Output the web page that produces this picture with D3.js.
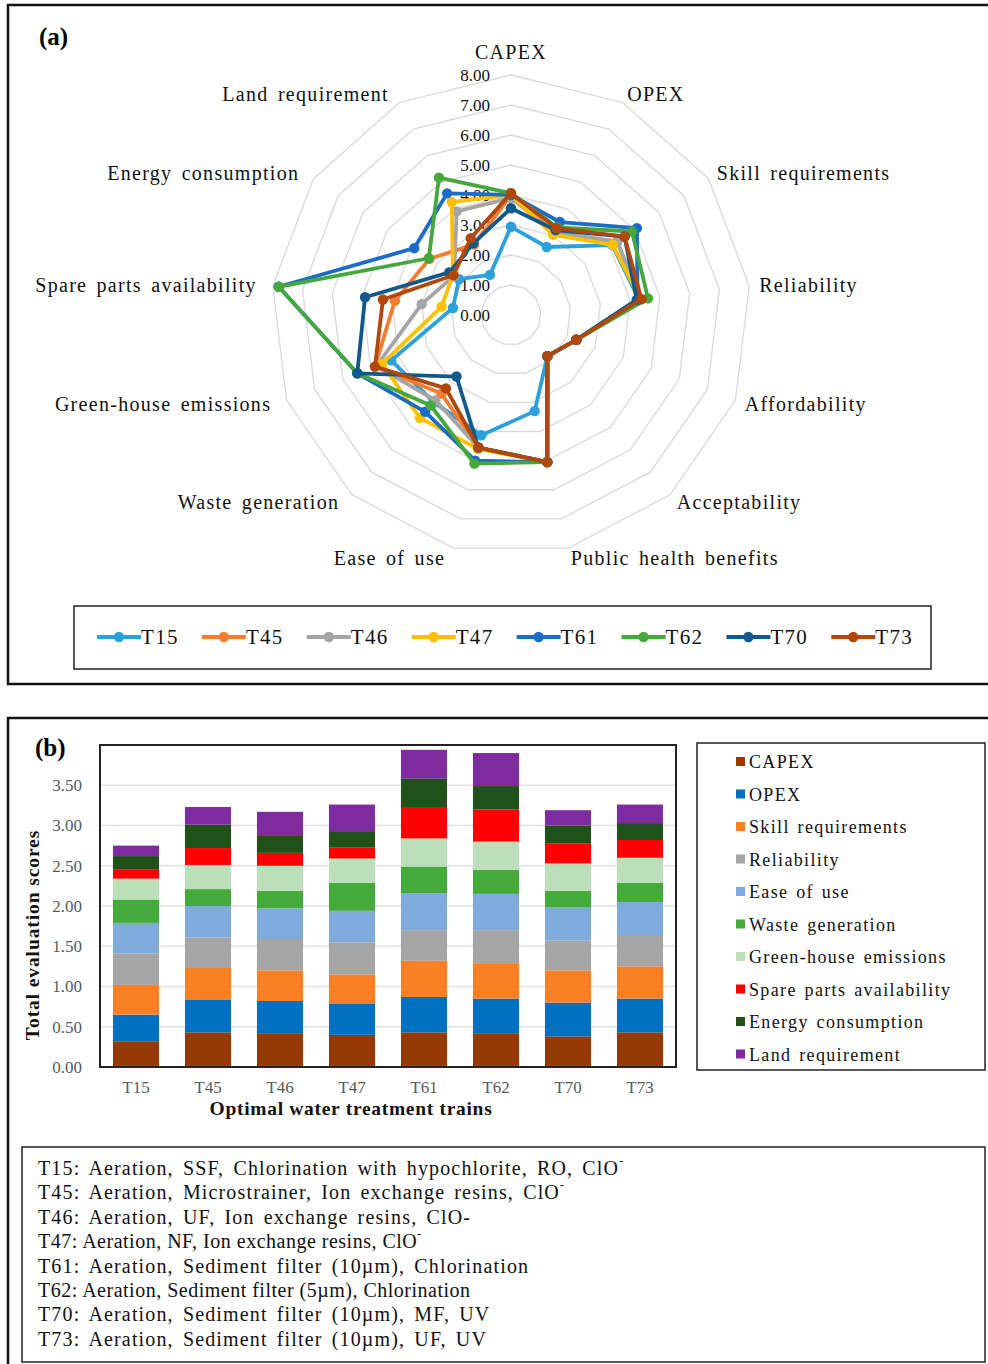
<!DOCTYPE html>
<html>
<head>
<meta charset="utf-8">
<script src="https://cdn.jsdelivr.net/npm/d3@7"></script>
<style>
  body { margin: 0; background: #fff; }
  svg { display: block; }
  text { font-family: "Liberation Serif", "Times New Roman", serif; }
</style>
</head>
<body>
<svg id="fig" width="988" height="1364"></svg>
<script>
// ---------- data ----------
const trains = ["T15", "T45", "T46", "T47", "T61", "T62", "T70", "T73"];

// radar criteria, clockwise from the top
const radarCriteria = ["CAPEX", "OPEX", "Skill requirements", "Reliability", "Affordability",
  "Acceptability", "Public health benefits", "Ease of use", "Waste generation",
  "Green-house emissions", "Spare parts availability", "Energy consumption", "Land requirement"];
const radarTicks = [0, 1, 2, 3, 4, 5, 6, 7, 8];

// criterion scores per treatment train (same order as radarCriteria)
const scoresT15 = [2.94, 2.56, 4.10, 4.30, 2.33, 1.83, 3.30, 4.13, 3.88, 4.27, 1.95, 2.10, 1.51];
const scoresT45 = [4.00, 3.10, 4.30, 4.35, 2.33, 1.83, 5.05, 4.55, 3.50, 4.85, 3.90, 3.30, 2.65];
const scoresT46 = [3.90, 3.10, 4.30, 4.35, 2.33, 1.83, 5.05, 4.55, 3.80, 4.80, 3.00, 2.30, 3.90];
const scoresT47 = [4.00, 3.02, 4.12, 4.35, 2.33, 1.83, 5.05, 4.60, 4.58, 4.60, 2.33, 2.35, 4.25];
const scoresT61 = [4.00, 3.50, 5.10, 4.25, 2.33, 1.83, 5.05, 5.00, 4.31, 5.48, 7.80, 3.92, 4.58];
const scoresT62 = [4.06, 3.30, 4.90, 4.60, 2.33, 1.83, 5.05, 5.10, 4.03, 5.48, 7.80, 3.33, 5.17];
const scoresT70 = [3.56, 3.20, 4.60, 4.22, 2.33, 1.83, 5.05, 4.55, 2.74, 5.48, 4.90, 2.50, 2.70];
const scoresT73 = [4.06, 3.27, 4.60, 4.38, 2.33, 1.83, 5.05, 4.55, 3.27, 4.85, 4.30, 2.33, 2.89];
const radarSeries = [scoresT15, scoresT45, scoresT46, scoresT47, scoresT61, scoresT62, scoresT70, scoresT73];
const trainColors = ["#2aa1dc", "#f47d30", "#a5a5a5", "#ffc000", "#1a6cc8", "#44a83d", "#11598c", "#b0480c"];

// weighted evaluation scores per criterion (same order as trains)
const barCriteria = ["CAPEX", "OPEX", "Skill requirements", "Reliability", "Ease of use",
  "Waste generation", "Green-house emissions", "Spare parts availability",
  "Energy consumption", "Land requirement"];
const wCapex   = [0.32, 0.43, 0.42, 0.40, 0.43, 0.42, 0.38, 0.43];
const wOpex    = [0.33, 0.41, 0.40, 0.39, 0.44, 0.43, 0.42, 0.42];
const wSkill   = [0.37, 0.39, 0.38, 0.36, 0.45, 0.43, 0.40, 0.40];
const wReliab  = [0.39, 0.38, 0.39, 0.40, 0.38, 0.42, 0.37, 0.39];
const wEase    = [0.38, 0.39, 0.38, 0.39, 0.46, 0.45, 0.41, 0.41];
const wWaste   = [0.29, 0.21, 0.22, 0.35, 0.33, 0.30, 0.21, 0.24];
const wGhg     = [0.26, 0.30, 0.31, 0.30, 0.35, 0.35, 0.34, 0.31];
const wSpare   = [0.11, 0.21, 0.16, 0.14, 0.39, 0.40, 0.25, 0.22];
const wEnergy  = [0.17, 0.29, 0.21, 0.20, 0.35, 0.29, 0.22, 0.21];
const wLand    = [0.13, 0.22, 0.30, 0.33, 0.36, 0.41, 0.19, 0.23];
const barSeries = [wCapex, wOpex, wSkill, wReliab, wEase, wWaste, wGhg, wSpare, wEnergy, wLand];
const barColors = ["#953a03", "#0070c0", "#fb7f23", "#a5a5a5", "#7faadc",
  "#45aa3c", "#bbdfb8", "#ff0000", "#1e5218", "#7e2ba0"];
const barTicks = [0, 0.5, 1, 1.5, 2, 2.5, 3, 3.5];

// treatment train descriptions: [text, superscript]
const trainNotes = [
  ["T15: Aeration, SSF, Chlorination with hypochlorite, RO, ClO", "-"],
  ["T45: Aeration, Microstrainer, Ion exchange resins, ClO", "-"],
  ["T46: Aeration, UF, Ion exchange resins, ClO-", ""],
  ["T47: Aeration, NF, Ion exchange resins, ClO", "-"],
  ["T61: Aeration, Sediment filter (10µm), Chlorination", ""],
  ["T62: Aeration, Sediment filter (5µm), Chlorination", ""],
  ["T70: Aeration, Sediment filter (10µm), MF, UV", ""],
  ["T73: Aeration, Sediment filter (10µm), UF, UV", ""]
];
// lines typeset without the extra spacing
const compactNotes = ["T47", "T62"];

// ---------- figure ----------
const svg = d3.select("#fig");

// panel frames
svg.append("rect").attr("x", 8).attr("y", 5).attr("width", 992).attr("height", 679)
  .attr("fill", "none").attr("stroke", "#111").attr("stroke-width", 2.5);
svg.append("rect").attr("x", 8).attr("y", 718).attr("width", 992).attr("height", 680)
  .attr("fill", "none").attr("stroke", "#111").attr("stroke-width", 2.5);

svg.append("text").attr("x", 39).attr("y", 45).attr("font-size", 25).attr("font-weight", "bold").text("(a)");
svg.append("text").attr("x", 35).attr("y", 756).attr("font-size", 25).attr("font-weight", "bold").text("(b)");

// ---------- (a) radar ----------
const cx = 511, cy = 315;
const n = radarCriteria.length;
const r = d3.scaleLinear().domain([0, 8]).range([0, 240]);
const angle = d3.scaleLinear().domain([0, n]).range([0, 2 * Math.PI]);
const radar = svg.append("g").attr("transform", `translate(${cx},${cy})`);

const ringLine = d3.lineRadial().curve(d3.curveLinearClosed)
  .angle((d, i) => angle(i)).radius(d => r(d));
radar.selectAll("path.ring").data(radarTicks.filter(t => t > 0)).join("path")
  .attr("class", "ring")
  .attr("d", t => ringLine(d3.range(n).map(() => t)))
  .attr("fill", "none").attr("stroke", "#d9d9d9").attr("stroke-width", 1.3);

radar.selectAll("text.tick").data(radarTicks).join("text")
  .attr("class", "tick")
  .attr("x", -21).attr("y", t => -r(t))
  .attr("text-anchor", "end").attr("dominant-baseline", "central")
  .attr("font-size", 17).attr("fill", "#111")
  .text(t => d3.format(".2f")(t));

radar.selectAll("text.cat").data(radarCriteria).join("text")
  .attr("class", "cat")
  .each(function (d, i) {
    const a = angle(i), s = Math.sin(a), c = Math.cos(a);
    const R = 250;
    d3.select(this)
      .attr("x", R * s + (s < -0.1 ? -6 : 0))
      .attr("y", -R * c - (Math.abs(s) < 0.1 ? 13 : 0))
      .attr("text-anchor", s > 0.1 ? "start" : (s < -0.1 ? "end" : "middle"));
  })
  .attr("dominant-baseline", "central")
  .attr("font-size", 20).attr("letter-spacing", 1.3).attr("word-spacing", 3).attr("fill", "#111")
  .text(d => d);

const seriesLine = d3.lineRadial().curve(d3.curveLinearClosed)
  .angle((d, i) => angle(i)).radius(d => r(d));
const seriesG = radar.selectAll("g.series").data(radarSeries).join("g").attr("class", "series");
seriesG.append("path")
  .attr("d", d => seriesLine(d))
  .attr("fill", "none").attr("stroke", (d, i) => trainColors[i])
  .attr("stroke-width", 3.8).attr("stroke-linejoin", "round");
seriesG.each(function (vals, si) {
  d3.select(this).selectAll("circle").data(vals).join("circle")
    .attr("cx", (v, i) => r(v) * Math.sin(angle(i)))
    .attr("cy", (v, i) => -r(v) * Math.cos(angle(i)))
    .attr("r", 5.2).attr("fill", trainColors[si]);
});

// radar legend
svg.append("rect").attr("x", 74).attr("y", 606).attr("width", 857).attr("height", 63)
  .attr("fill", "none").attr("stroke", "#222").attr("stroke-width", 1.5);
const legA = svg.selectAll("g.legA").data(trains).join("g").attr("class", "legA")
  .attr("transform", (d, i) => `translate(${97 + i * 104.9},637)`);
legA.append("line").attr("x1", 0).attr("x2", 44).attr("y1", 0).attr("y2", 0)
  .attr("stroke", (d, i) => trainColors[i]).attr("stroke-width", 3.8);
legA.append("circle").attr("cx", 22).attr("cy", 0).attr("r", 5.2).attr("fill", (d, i) => trainColors[i]);
legA.append("text").attr("x", 44).attr("y", 0).attr("dominant-baseline", "central")
  .attr("font-size", 21).attr("letter-spacing", 1.3).attr("fill", "#111").text(d => d);

// ---------- (b) stacked bars ----------
const plot = { left: 100, right: 676, top: 745, bottom: 1067 };
const x = d3.scaleBand().domain(trains).range([plot.left, plot.right])
  .paddingInner(0.36).paddingOuter(0.18);
const y = d3.scaleLinear().domain([0, 4]).range([plot.bottom, plot.top]);

svg.append("g").selectAll("line").data(barTicks.filter(t => t > 0)).join("line")
  .attr("x1", plot.left).attr("x2", plot.right)
  .attr("y1", t => y(t)).attr("y2", t => y(t))
  .attr("stroke", "#e3e3e3").attr("stroke-width", 1.5);

const stackRows = trains.map((t, ti) => {
  const row = { train: t };
  barCriteria.forEach((c, ci) => { row[c] = barSeries[ci][ti]; });
  return row;
});
const stacked = d3.stack().keys(barCriteria)(stackRows);
svg.append("g").selectAll("g").data(stacked).join("g")
  .attr("fill", (d, i) => barColors[i])
  .selectAll("rect").data(d => d).join("rect")
  .attr("x", d => x(d.data.train)).attr("width", x.bandwidth())
  .attr("y", d => y(d[1])).attr("height", d => y(d[0]) - y(d[1]));

const yAxis = svg.append("g").attr("transform", `translate(${plot.left},0)`)
  .call(d3.axisLeft(y).tickValues(barTicks).tickFormat(d3.format(".2f")).tickSize(0).tickPadding(18));
yAxis.select(".domain").remove();
yAxis.selectAll("text").attr("font-family", '"Liberation Serif", serif').attr("font-size", 17).attr("fill", "#595959");

const xAxis = svg.append("g").attr("transform", `translate(0,${plot.bottom})`)
  .call(d3.axisBottom(x).tickSize(0).tickPadding(14));
xAxis.select(".domain").remove();
xAxis.selectAll("text").attr("font-family", '"Liberation Serif", serif').attr("font-size", 17).attr("fill", "#595959");

svg.append("rect").attr("x", plot.left).attr("y", plot.top)
  .attr("width", plot.right - plot.left).attr("height", plot.bottom - plot.top)
  .attr("fill", "none").attr("stroke", "#222").attr("stroke-width", 2);

svg.append("text").attr("x", 351).attr("y", 1115).attr("text-anchor", "middle")
  .attr("font-size", 19.5).attr("font-weight", "bold").attr("letter-spacing", 0.7).attr("fill", "#111")
  .text("Optimal water treatment trains");
svg.append("text").attr("transform", "translate(39,935) rotate(-90)").attr("text-anchor", "middle")
  .attr("font-size", 19.5).attr("font-weight", "bold").attr("letter-spacing", 0.9).attr("fill", "#111")
  .text("Total evaluation scores");

// bar legend
svg.append("rect").attr("x", 697).attr("y", 743).attr("width", 288).attr("height", 327)
  .attr("fill", "none").attr("stroke", "#222").attr("stroke-width", 1.5);
const legB = svg.selectAll("g.legB").data(barCriteria).join("g").attr("class", "legB")
  .attr("transform", (d, i) => `translate(736,${762 + i * 32.5})`);
legB.append("rect").attr("x", 0).attr("y", -5).attr("width", 9).attr("height", 9)
  .attr("fill", (d, i) => barColors[i]);
legB.append("text").attr("x", 13).attr("y", 0).attr("dominant-baseline", "central")
  .attr("font-size", 18).attr("letter-spacing", 1.35).attr("word-spacing", 2).attr("fill", "#111").text(d => d);

// train description box
svg.append("rect").attr("x", 22).attr("y", 1147).attr("width", 963).attr("height", 215)
  .attr("fill", "none").attr("stroke", "#222").attr("stroke-width", 1.5);
const notes = svg.selectAll("text.note").data(trainNotes).join("text")
  .attr("class", "note")
  .attr("x", 38).attr("y", (d, i) => 1168 + i * 24.4)
  .attr("dominant-baseline", "central")
  .attr("font-size", 20).attr("fill", "#111")
  .attr("letter-spacing", d => compactNotes.includes(d[0].slice(0, 3)) ? 0.5 : 1.15)
  .attr("word-spacing", d => compactNotes.includes(d[0].slice(0, 3)) ? 0 : 3);
notes.append("tspan").text(d => d[0]);
notes.append("tspan").attr("dy", -7).attr("font-size", 12).text(d => d[1]);
</script>
</body>
</html>
